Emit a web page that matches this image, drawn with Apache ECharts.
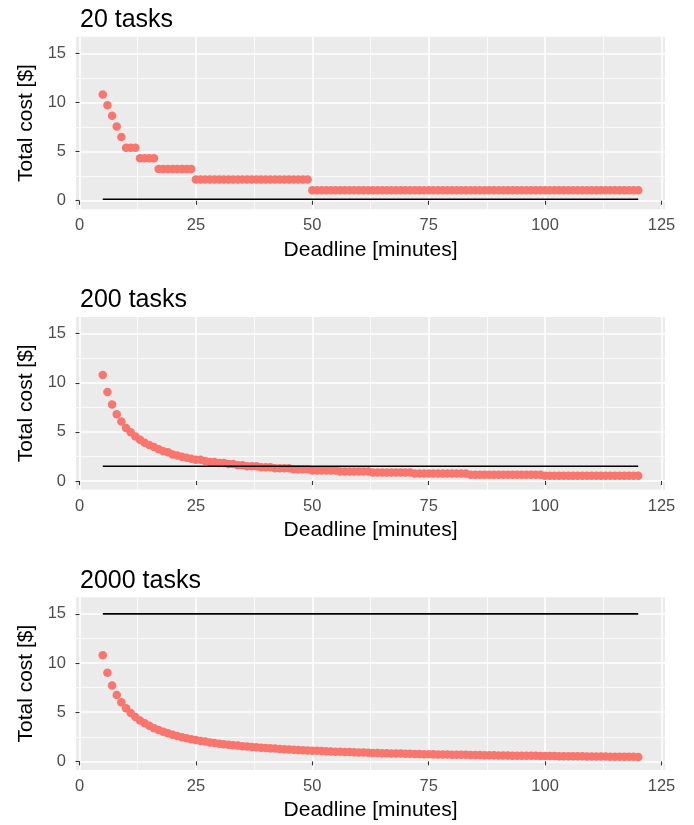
<!DOCTYPE html>
<html>
<head>
<meta charset="utf-8">
<script src="https://cdn.jsdelivr.net/npm/echarts@6/dist/echarts.min.js"></script>
<style>html,body{margin:0;padding:0;background:#fff}#c{width:694px;height:825px}</style>
</head>
<body>
<div id="c"></div>
<script>
const deadlines = [5,6,7,8,9,10,11,12,13,14,15,16,17,18,19,20,21,22,23,24,25,26,27,28,29,30,31,32,33,34,35,36,37,38,39,40,41,42,43,44,45,46,47,48,49,50,51,52,53,54,55,56,57,58,59,60,61,62,63,64,65,66,67,68,69,70,71,72,73,74,75,76,77,78,79,80,81,82,83,84,85,86,87,88,89,90,91,92,93,94,95,96,97,98,99,100,101,102,103,104,105,106,107,108,109,110,111,112,113,114,115,116,117,118,119,120];

const cost20 = [10.8,9.72,8.64,7.56,6.48,5.4,5.4,5.4,4.32,4.32,4.32,4.32,
3.24,3.24,3.24,3.24,3.24,3.24,3.24,3.24,
2.16,2.16,2.16,2.16,2.16,2.16,2.16,2.16,2.16,2.16,
2.16,2.16,2.16,2.16,2.16,2.16,2.16,2.16,2.16,2.16,
2.16,2.16,2.16,2.16,2.16,
1.08,1.08,1.08,1.08,1.08,1.08,1.08,1.08,1.08,1.08,
1.08,1.08,1.08,1.08,1.08,1.08,1.08,1.08,1.08,1.08,
1.08,1.08,1.08,1.08,1.08,1.08,1.08,1.08,1.08,1.08,
1.08,1.08,1.08,1.08,1.08,1.08,1.08,1.08,1.08,1.08,
1.08,1.08,1.08,1.08,1.08,1.08,1.08,1.08,1.08,1.08,
1.08,1.08,1.08,1.08,1.08,1.08,1.08,1.08,1.08,1.08,
1.08,1.08,1.08,1.08,1.08,1.08,1.08,1.08,1.08,1.08,
1.08];

const cost200 = [10.8,9.07,7.78,6.80,6.05,5.4,4.97,4.54,4.21,3.89,3.67,3.46,3.24,3.02,2.92,2.7,2.59,2.48,2.38,2.27,
2.16,2.16,2.05,1.94,1.94,1.84,1.84,1.73,1.73,1.62,1.62,1.51,1.51,1.51,1.40,1.40,1.40,
1.30,1.30,1.30,1.30,1.19,1.19,1.19,1.19,
1.08,1.08,1.08,1.08,1.08,1.08,
0.97,0.97,0.97,0.97,0.97,0.97,0.97,
0.86,0.86,0.86,0.86,0.86,0.86,0.86,0.86,0.86,
0.76,0.76,0.76,0.76,0.76,0.76,0.76,0.76,0.76,0.76,0.76,0.76,
0.65,0.65,0.65,0.65,0.65,0.65,0.65,0.65,0.65,0.65,0.65,0.65,0.65,0.65,0.65,0.65,
0.54,0.54,0.54,0.54,0.54,0.54,0.54,0.54,0.54,0.54,0.54,0.54,0.54,0.54,0.54,0.54,0.54,0.54,0.54,0.54,0.54];

const cost2000 = [10.8,9.01,7.72,6.75,6.00,5.4,4.91,4.50,4.16,3.87,3.61,3.38,3.19,3.00,2.85,2.7,2.58,2.46,2.35,2.26,
2.16,2.08,2.01,1.93,1.87,1.80,1.75,1.70,1.64,1.60,1.54,1.50,1.47,1.43,1.39,1.35,1.32,1.30,1.26,1.23,1.21,1.18,1.16,1.13,1.11,
1.08,1.07,1.05,1.03,1.00,0.98,0.97,0.95,0.94,0.92,0.91,0.89,0.87,0.86,0.85,0.83,0.82,0.81,0.80,0.79,0.78,0.77,0.76,0.75,0.73,
0.72,0.71,0.70,0.70,0.69,0.68,0.67,0.66,0.66,0.65,0.64,0.64,0.63,0.62,0.62,0.60,0.59,0.59,0.58,0.58,0.57,0.57,0.56,0.56,0.55,
0.54,0.54,0.54,0.53,0.53,0.52,0.52,0.51,0.51,0.50,0.50,0.50,0.49,0.49,0.48,0.48,0.48,0.46,0.46,0.46,0.45];

const lineX = [5, 120];
const baseline20 = [0.15, 0.15];
const baseline200 = [1.5, 1.5];
const baseline2000 = [15, 15];

const panelTitles = ['20 tasks', '200 tasks', '2000 tasks'];
const xTicks = [0, 25, 50, 75, 100, 125];
const xMinor = [12.5, 37.5, 62.5, 87.5, 112.5];
const yTicks = [0, 5, 10, 15];
const yMinor = [2.5, 7.5, 12.5];
const xTitle = 'Deadline [minutes]';
const yTitle = 'Total cost [$]';

const FONT = 'Liberation Sans, Arial, Helvetica, sans-serif';
const tops = [36.7, 317.0, 597.3];
const panelH = 172.6;
const panelL = 76, panelW = 589;
const XMIN = -0.75, XMAX = 125.75, YMIN = -0.87, YMAX = 16.69;

const grids = [], xAxes = [], yAxes = [], series = [], titles = [];
const costs = [cost20, cost200, cost2000];
const baselines = [baseline20, baseline200, baseline2000];

tops.forEach((t, i) => {
  grids.push({left: panelL, top: t, width: panelW, height: panelH, show: true, backgroundColor: '#EBEBEB', borderWidth: 0});
  xAxes.push({
    type: 'value', gridIndex: i, min: XMIN, max: XMAX,
    name: xTitle, nameLocation: 'middle', nameGap: 30,
    nameTextStyle: {fontFamily: FONT, fontSize: 21, color: '#000'},
    axisLine: {show: false},
    axisTick: {show: true, length: 4, lineStyle: {color: '#333', width: 1.1}, customValues: xTicks},
    axisLabel: {color: '#4D4D4D', fontFamily: FONT, fontSize: 16.5, margin: 8, customValues: xTicks},
    splitLine: {show: true, lineStyle: {color: '#fff', width: 1.6}},
    z: 1
  });
  xAxes.push({
    type: 'value', gridIndex: i, min: XMIN, max: XMAX,
    axisLine: {show: false},
    axisTick: {show: false, customValues: xMinor},
    axisLabel: {show: false, customValues: xMinor},
    splitLine: {show: true, lineStyle: {color: '#fff', width: 0.8}},
    z: 0
  });
  yAxes.push({
    type: 'value', gridIndex: i, min: YMIN, max: YMAX,
    name: yTitle, nameLocation: 'middle', nameGap: 39, nameRotate: 90,
    nameTextStyle: {fontFamily: FONT, fontSize: 21, color: '#000'},
    axisLine: {show: false},
    axisTick: {show: true, length: 4, lineStyle: {color: '#333', width: 1.1}, customValues: yTicks},
    axisLabel: {color: '#4D4D4D', fontFamily: FONT, fontSize: 16.5, margin: 10, customValues: yTicks},
    splitLine: {show: true, lineStyle: {color: '#fff', width: 1.6}},
    z: 1
  });
  yAxes.push({
    type: 'value', gridIndex: i, min: YMIN, max: YMAX,
    axisLine: {show: false},
    axisTick: {show: false, customValues: yMinor},
    axisLabel: {show: false, customValues: yMinor},
    splitLine: {show: true, lineStyle: {color: '#fff', width: 0.8}},
    z: 0
  });
  series.push({
    type: 'scatter', xAxisIndex: 2 * i, yAxisIndex: 2 * i,
    symbolSize: 8.5, itemStyle: {color: '#F8766D', opacity: 1},
    data: deadlines.map((d, k) => [d, costs[i][k]]),
    silent: true, z: 3
  });
  series.push({
    type: 'line', xAxisIndex: 2 * i, yAxisIndex: 2 * i,
    data: lineX.map((x, k) => [x, baselines[i][k]]),
    showSymbol: false, symbol: 'none',
    lineStyle: {color: '#000', width: 1.6}, silent: true, z: 4
  });
  titles.push({text: panelTitles[i], left: panelL - 1, top: t - 34,
    textStyle: {fontFamily: FONT, fontSize: 25, fontWeight: 'normal', color: '#000'}});
});

const chart = echarts.init(document.getElementById('c'), null, {renderer: 'canvas'});
chart.setOption({
  animation: false,
  backgroundColor: '#fff',
  title: titles,
  grid: grids,
  xAxis: xAxes,
  yAxis: yAxes,
  series: series
});
</script>
</body>
</html>
